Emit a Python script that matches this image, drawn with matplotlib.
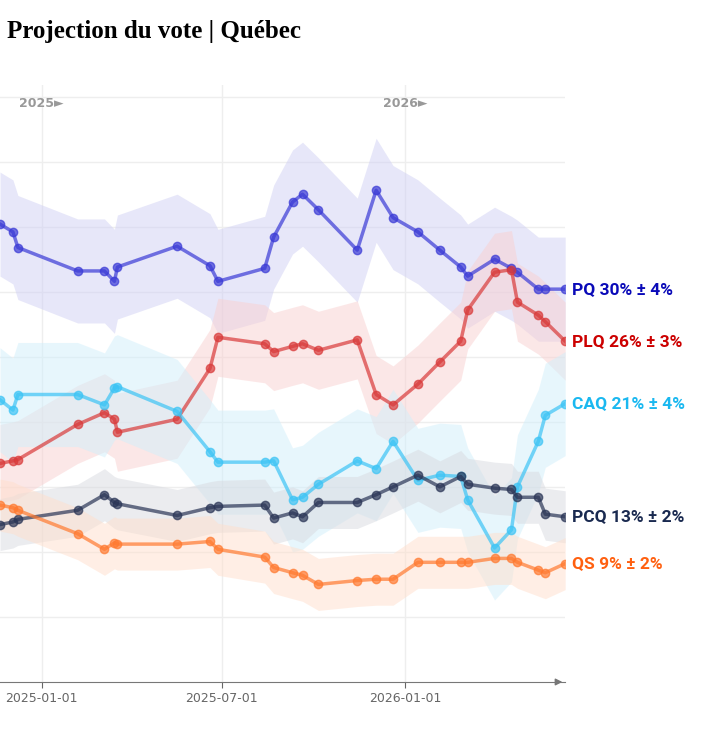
import matplotlib.pyplot as plt
import matplotlib.dates as mdates
import numpy as np
from datetime import datetime


dates = ["2024-11-20", "2024-12-03", "2024-12-08", "2025-02-06", "2025-03-05", "2025-03-15",
         "2025-03-18", "2025-05-17", "2025-06-19", "2025-06-27", "2025-08-13", "2025-08-22",
         "2025-09-10", "2025-09-20", "2025-10-06", "2025-11-14", "2025-12-03", "2025-12-20",
         "2026-01-14", "2026-02-05", "2026-02-26", "2026-03-05", "2026-04-01", "2026-04-18",
         "2026-04-24", "2026-05-15", "2026-05-22", "2026-06-11"]

pq = [35.2, 34.6, 33.4, 31.6, 31.6, 30.8, 31.9, 33.5, 32.0, 30.8, 31.8, 34.2, 36.9, 37.5,
      36.3, 33.2, 37.8, 35.7, 34.6, 33.2, 31.9, 31.2, 32.5, 31.8, 31.5, 30.2, 30.2, 30.2]
plq = [16.8, 17.0, 17.1, 19.8, 20.7, 20.2, 19.2, 20.2, 24.1, 26.5, 26.0, 25.4, 25.8, 26.0,
       25.5, 26.3, 22.1, 21.3, 22.9, 24.6, 26.2, 28.6, 31.5, 31.7, 29.2, 28.2, 27.7, 26.2]
caq = [21.7, 20.9, 22.1, 22.1, 21.3, 22.6, 22.7, 20.8, 17.7, 16.9, 16.9, 17.0, 14.0, 14.2,
       15.2, 17.0, 16.4, 18.5, 15.5, 15.9, 15.8, 14.0, 10.3, 11.7, 15.0, 18.5, 20.5, 21.4]
pcq = [12.1, 12.3, 12.5, 13.2, 14.4, 13.8, 13.7, 12.8, 13.4, 13.5, 13.6, 12.6, 13.0, 12.7,
       13.8, 13.8, 14.4, 15.0, 15.9, 15.0, 15.8, 15.2, 14.9, 14.8, 14.2, 14.2, 12.9, 12.7]
qs = [13.6, 13.4, 13.2, 11.4, 10.2, 10.7, 10.6, 10.6, 10.8, 10.2, 9.6, 8.8, 8.4, 8.2,
      7.5, 7.8, 7.9, 7.9, 9.2, 9.2, 9.2, 9.2, 9.5, 9.5, 9.2, 8.6, 8.4, 9.1]

parties = ["PQ", "PLQ", "CAQ", "PCQ", "QS"]
margins = [4, 3, 4, 2, 2]
line_colors = ["#3a3ad6", "#d93a3a", "#3cc4f5", "#2a3556", "#ff7a30"]
band_colors = ["#d0d0f4", "#f9d0d0", "#d0effb", "#d8dae0", "#ffdfcc"]
label_colors = ["#0a0ab8", "#cc0000", "#1ab8f0", "#1a2a50", "#ff6010"]


def main():
    x = [datetime.strptime(d, "%Y-%m-%d") for d in dates]
    series = [pq, plq, caq, pcq, qs]

    fig = plt.figure(figsize=(7.2, 7.29), dpi=100)
    ax = fig.add_axes([0.0, 0.0645, 0.785, 0.819])

    for vals, m, lc, bc in zip(series, margins, line_colors, band_colors):
        v = np.array(vals)
        ax.fill_between(x, v - m, v + m, color=bc, alpha=0.5, lw=0)
    for vals, lc in zip(series, line_colors):
        ax.plot(x, vals, color=lc, lw=2.5, alpha=0.7, marker="o", markersize=6)

    for name, vals, m, c in zip(parties, series, margins, label_colors):
        ax.annotate("%s %d%% ± %d%%" % (name, round(vals[-1]), m), (x[-1], vals[-1]),
                    xytext=(5, 0), textcoords="offset points", va="center",
                    color=c, fontsize=12.5, fontweight="bold", family="Roboto",
                    annotation_clip=False)

    ax.set_xlim(datetime(2024, 11, 20), datetime(2026, 6, 11))
    ax.set_ylim(0, 45.9)
    ax.set_yticks(np.arange(5, 50, 5))
    ax.set_yticklabels([])
    ax.tick_params(axis="y", length=0)
    ax.xaxis.set_major_locator(mdates.MonthLocator(bymonth=[1, 7]))
    ax.xaxis.set_major_formatter(mdates.DateFormatter("%Y-%m-%d"))
    ax.tick_params(axis="x", colors="#666666", labelsize=9, length=4)
    ax.grid(True, color="#eeeeee", lw=1)
    ax.set_axisbelow(True)
    for s in ["top", "right", "left"]:
        ax.spines[s].set_visible(False)
    ax.spines["bottom"].set_color("#777777")
    ax.annotate("", xy=(1.0, 0), xytext=(0.98, 0), xycoords="axes fraction",
                arrowprops=dict(arrowstyle="-|>", color="#777777", lw=1))

    for yr in [2025, 2026]:
        ax.text(datetime(yr, 1, 1), 44.5, "%d►" % yr, ha="center", va="center",
                color="#999999", fontsize=9, fontweight="bold")

    fig.text(0.01, 0.957, "Projection du vote | Québec", fontsize=18, fontweight="bold",
             family="Liberation Serif", va="center")

    fig.savefig("out.png", dpi=100)


if __name__ == "__main__":
    main()
